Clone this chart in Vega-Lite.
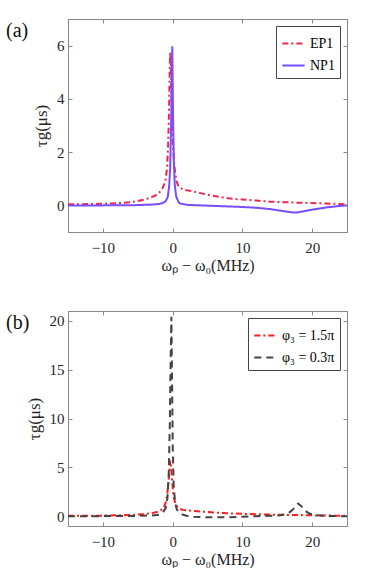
{
  "$schema": "https://vega.github.io/schema/vega-lite/v6.json",
  "padding": {"left": 5, "top": 18, "right": 5, "bottom": 0},
  "spacing": 36,
  "resolve": {"scale": {"color": "independent", "strokeDash": "independent"}},
  "config": {
    "font": "Liberation Serif",
    "view": {"stroke": "#888888", "strokeWidth": 1},
    "axis": {
      "grid": false,
      "domainColor": "#888888",
      "tickColor": "#888888",
      "tickSize": -4,
      "labelPadding": 8,
      "labelFontSize": 15,
      "labelColor": "#262626",
      "titleFontSize": 17,
      "titleFontWeight": "normal",
      "titleColor": "#262626",
      "labelFont": "Liberation Serif",
      "titleFont": "Liberation Serif"
    },
    "axisX": {"labelPadding": 12, "titlePadding": 2, "titleFontSize": 16},
    "legend": {
      "orient": "top-right",
      "offset": 7,
      "strokeColor": "#444444",
      "fillColor": "white",
      "padding": 5,
      "symbolType": "stroke",
      "symbolStrokeWidth": 2,
      "symbolSize": 500,
      "labelFontSize": 14,
      "labelFont": "Liberation Serif",
      "labelColor": "#000000",
      "title": null
    },
    "title": {"font": "Liberation Serif", "fontSize": 20, "fontWeight": "normal", "color": "#111111"}
  },
  "vconcat": [
    {
      "title": {"text": "(a)", "anchor": "start", "frame": "group", "dx": -62, "dy": 22, "offset": 0},
      "width": 279,
      "height": 213,
      "data": {"values": [
        {"s":"EP1","x":-15,"y":0.04},{"s":"EP1","x":-12,"y":0.05},{"s":"EP1","x":-10,"y":0.06},{"s":"EP1","x":-8,"y":0.08},{"s":"EP1","x":-6,"y":0.12},{"s":"EP1","x":-5,"y":0.16},{"s":"EP1","x":-4,"y":0.22},{"s":"EP1","x":-3,"y":0.31},{"s":"EP1","x":-2.5,"y":0.37},{"s":"EP1","x":-2,"y":0.45},{"s":"EP1","x":-1.5,"y":0.62},{"s":"EP1","x":-1.2,"y":0.8},{"s":"EP1","x":-1,"y":0.98},{"s":"EP1","x":-0.8,"y":1.4},{"s":"EP1","x":-0.65,"y":2.2},{"s":"EP1","x":-0.52,"y":3.5},{"s":"EP1","x":-0.42,"y":5.0},{"s":"EP1","x":-0.35,"y":5.75},{"s":"EP1","x":-0.27,"y":5.3},{"s":"EP1","x":-0.15,"y":3.9},{"s":"EP1","x":0,"y":2.5},{"s":"EP1","x":0.2,"y":1.6},{"s":"EP1","x":0.4,"y":1.15},{"s":"EP1","x":0.6,"y":0.88},{"s":"EP1","x":0.8,"y":0.74},{"s":"EP1","x":1,"y":0.67},{"s":"EP1","x":1.5,"y":0.6},{"s":"EP1","x":2,"y":0.57},{"s":"EP1","x":3,"y":0.52},{"s":"EP1","x":4,"y":0.46},{"s":"EP1","x":5,"y":0.4},{"s":"EP1","x":6,"y":0.35},{"s":"EP1","x":7,"y":0.31},{"s":"EP1","x":8,"y":0.27},{"s":"EP1","x":9,"y":0.24},{"s":"EP1","x":10,"y":0.22},{"s":"EP1","x":12,"y":0.18},{"s":"EP1","x":14,"y":0.14},{"s":"EP1","x":16,"y":0.12},{"s":"EP1","x":18,"y":0.1},{"s":"EP1","x":20,"y":0.09},{"s":"EP1","x":22,"y":0.07},{"s":"EP1","x":25,"y":0.04},
        {"s":"NP1","x":-15,"y":0.0},{"s":"NP1","x":-10,"y":0.0},{"s":"NP1","x":-5,"y":0.01},{"s":"NP1","x":-3,"y":0.03},{"s":"NP1","x":-2,"y":0.05},{"s":"NP1","x":-1.5,"y":0.08},{"s":"NP1","x":-1,"y":0.15},{"s":"NP1","x":-0.7,"y":0.32},{"s":"NP1","x":-0.5,"y":0.7},{"s":"NP1","x":-0.35,"y":1.4},{"s":"NP1","x":-0.22,"y":3.0},{"s":"NP1","x":-0.05,"y":5.98},{"s":"NP1","x":0.07,"y":3.2},{"s":"NP1","x":0.18,"y":1.6},{"s":"NP1","x":0.3,"y":0.8},{"s":"NP1","x":0.5,"y":0.35},{"s":"NP1","x":0.8,"y":0.15},{"s":"NP1","x":1,"y":0.08},{"s":"NP1","x":2,"y":0.02},{"s":"NP1","x":4,"y":0.0},{"s":"NP1","x":6,"y":-0.02},{"s":"NP1","x":8,"y":-0.04},{"s":"NP1","x":10,"y":-0.06},{"s":"NP1","x":12,"y":-0.09},{"s":"NP1","x":14,"y":-0.14},{"s":"NP1","x":15,"y":-0.18},{"s":"NP1","x":16,"y":-0.22},{"s":"NP1","x":17,"y":-0.26},{"s":"NP1","x":17.5,"y":-0.27},{"s":"NP1","x":18,"y":-0.26},{"s":"NP1","x":19,"y":-0.21},{"s":"NP1","x":20,"y":-0.16},{"s":"NP1","x":21,"y":-0.12},{"s":"NP1","x":22,"y":-0.08},{"s":"NP1","x":23,"y":-0.05},{"s":"NP1","x":24,"y":-0.02},{"s":"NP1","x":25,"y":0.0}
      ]},
      "layer": [
        {
          "mark": {"type": "line", "strokeWidth": 2, "clip": true},
          "encoding": {
            "x": {"field": "x", "type": "quantitative", "scale": {"domain": [-15, 25], "nice": false}, "axis": {"values": [-10, 0, 10, 20], "title": "ωₚ − ω₀(MHz)", "labelFont": "Liberation Serif", "titleFont": "Liberation Serif"}},
            "y": {"field": "y", "type": "quantitative", "scale": {"domain": [-1, 7], "nice": false}, "axis": {"values": [0, 2, 4, 6], "title": "τg(μs)", "titlePadding": 6, "labelFont": "Liberation Serif", "titleFont": "Liberation Serif"}},
            "color": {"field": "s", "type": "nominal", "scale": {"domain": ["EP1", "NP1"], "range": ["#F0244E", "#7A4CFF"]}},
            "strokeDash": {"field": "s", "type": "nominal", "scale": {"domain": ["EP1", "NP1"], "range": [[6, 3, 2, 3], [1, 0]]}}
          }
        },
        {
          "mark": {"type": "line", "opacity": 0},
          "encoding": {
            "x": {"field": "x", "type": "quantitative", "axis": {"orient": "top", "values": [-10, 0, 10, 20], "labels": false, "title": null}},
            "y": {"field": "y", "type": "quantitative", "axis": {"orient": "right", "values": [0, 2, 4, 6], "labels": false, "title": null}},
            "detail": {"field": "s"}
          }
        }
      ],
      "resolve": {"axis": {"x": "independent", "y": "independent"}}
    },
    {
      "title": {"text": "(b)", "anchor": "start", "frame": "group", "dx": -62, "dy": 22, "offset": 0},
      "width": 279,
      "height": 215,
      "data": {"values": [
        {"s":"φ₃ = 1.5π","x":-15,"y":0.04},{"s":"φ₃ = 1.5π","x":-10,"y":0.06},{"s":"φ₃ = 1.5π","x":-6,"y":0.12},{"s":"φ₃ = 1.5π","x":-4,"y":0.22},{"s":"φ₃ = 1.5π","x":-3,"y":0.31},{"s":"φ₃ = 1.5π","x":-2,"y":0.48},{"s":"φ₃ = 1.5π","x":-1.5,"y":0.7},{"s":"φ₃ = 1.5π","x":-1.2,"y":1.0},{"s":"φ₃ = 1.5π","x":-1,"y":1.4},{"s":"φ₃ = 1.5π","x":-0.8,"y":2.1},{"s":"φ₃ = 1.5π","x":-0.6,"y":3.4},{"s":"φ₃ = 1.5π","x":-0.45,"y":4.8},{"s":"φ₃ = 1.5π","x":-0.33,"y":5.7},{"s":"φ₃ = 1.5π","x":-0.2,"y":4.9},{"s":"φ₃ = 1.5π","x":-0.05,"y":3.4},{"s":"φ₃ = 1.5π","x":0.15,"y":2.0},{"s":"φ₃ = 1.5π","x":0.4,"y":1.3},{"s":"φ₃ = 1.5π","x":0.7,"y":0.95},{"s":"φ₃ = 1.5π","x":1,"y":0.75},{"s":"φ₃ = 1.5π","x":1.5,"y":0.65},{"s":"φ₃ = 1.5π","x":2,"y":0.6},{"s":"φ₃ = 1.5π","x":3,"y":0.54},{"s":"φ₃ = 1.5π","x":5,"y":0.43},{"s":"φ₃ = 1.5π","x":7,"y":0.33},{"s":"φ₃ = 1.5π","x":10,"y":0.24},{"s":"φ₃ = 1.5π","x":13,"y":0.18},{"s":"φ₃ = 1.5π","x":16,"y":0.14},{"s":"φ₃ = 1.5π","x":18,"y":0.12},{"s":"φ₃ = 1.5π","x":20,"y":0.09},{"s":"φ₃ = 1.5π","x":22,"y":0.07},{"s":"φ₃ = 1.5π","x":25,"y":0.04},
        {"s":"φ₃ = 0.3π","x":-15,"y":0.0},{"s":"φ₃ = 0.3π","x":-10,"y":0.01},{"s":"φ₃ = 0.3π","x":-5,"y":0.03},{"s":"φ₃ = 0.3π","x":-3,"y":0.08},{"s":"φ₃ = 0.3π","x":-2,"y":0.15},{"s":"φ₃ = 0.3π","x":-1.5,"y":0.3},{"s":"φ₃ = 0.3π","x":-1,"y":0.8},{"s":"φ₃ = 0.3π","x":-0.75,"y":1.8},{"s":"φ₃ = 0.3π","x":-0.55,"y":4.5},{"s":"φ₃ = 0.3π","x":-0.4,"y":9.5},{"s":"φ₃ = 0.3π","x":-0.28,"y":16.0},{"s":"φ₃ = 0.3π","x":-0.18,"y":20.4},{"s":"φ₃ = 0.3π","x":-0.08,"y":14.0},{"s":"φ₃ = 0.3π","x":0.02,"y":7.0},{"s":"φ₃ = 0.3π","x":0.15,"y":3.2},{"s":"φ₃ = 0.3π","x":0.35,"y":1.4},{"s":"φ₃ = 0.3π","x":0.6,"y":0.7},{"s":"φ₃ = 0.3π","x":1,"y":0.35},{"s":"φ₃ = 0.3π","x":1.5,"y":0.15},{"s":"φ₃ = 0.3π","x":2,"y":0.05},{"s":"φ₃ = 0.3π","x":3,"y":-0.05},{"s":"φ₃ = 0.3π","x":5,"y":-0.1},{"s":"φ₃ = 0.3π","x":8,"y":-0.1},{"s":"φ₃ = 0.3π","x":10,"y":-0.06},{"s":"φ₃ = 0.3π","x":12,"y":0.0},{"s":"φ₃ = 0.3π","x":14,"y":0.05},{"s":"φ₃ = 0.3π","x":15.5,"y":0.1},{"s":"φ₃ = 0.3π","x":16.5,"y":0.25},{"s":"φ₃ = 0.3π","x":17.2,"y":0.65},{"s":"φ₃ = 0.3π","x":18,"y":1.3},{"s":"φ₃ = 0.3π","x":18.5,"y":1.0},{"s":"φ₃ = 0.3π","x":19,"y":0.55},{"s":"φ₃ = 0.3π","x":19.6,"y":0.28},{"s":"φ₃ = 0.3π","x":20.5,"y":0.1},{"s":"φ₃ = 0.3π","x":22,"y":0.03},{"s":"φ₃ = 0.3π","x":25,"y":0.0}
      ]},
      "layer": [
        {
          "mark": {"type": "line", "strokeWidth": 2, "clip": true},
          "encoding": {
            "x": {"field": "x", "type": "quantitative", "scale": {"domain": [-15, 25], "nice": false}, "axis": {"values": [-10, 0, 10, 20], "title": "ωₚ − ω₀(MHz)", "labelFont": "Liberation Serif", "titleFont": "Liberation Serif"}},
            "y": {"field": "y", "type": "quantitative", "scale": {"domain": [-1, 21], "nice": false}, "axis": {"values": [0, 5, 10, 15, 20], "title": "τg(μs)", "titlePadding": 6, "labelFont": "Liberation Serif", "titleFont": "Liberation Serif"}},
            "color": {"field": "s", "type": "nominal", "scale": {"domain": ["φ₃ = 1.5π", "φ₃ = 0.3π"], "range": ["#FF1A1A", "#444444"]}},
            "strokeDash": {"field": "s", "type": "nominal", "scale": {"domain": ["φ₃ = 1.5π", "φ₃ = 0.3π"], "range": [[6, 3, 2, 3], [7, 5]]}}
          }
        },
        {
          "mark": {"type": "line", "opacity": 0},
          "encoding": {
            "x": {"field": "x", "type": "quantitative", "axis": {"orient": "top", "values": [-10, 0, 10, 20], "labels": false, "title": null}},
            "y": {"field": "y", "type": "quantitative", "axis": {"orient": "right", "values": [0, 5, 10, 15, 20], "labels": false, "title": null}},
            "detail": {"field": "s"}
          }
        }
      ],
      "resolve": {"axis": {"x": "independent", "y": "independent"}}
    }
  ]
}
